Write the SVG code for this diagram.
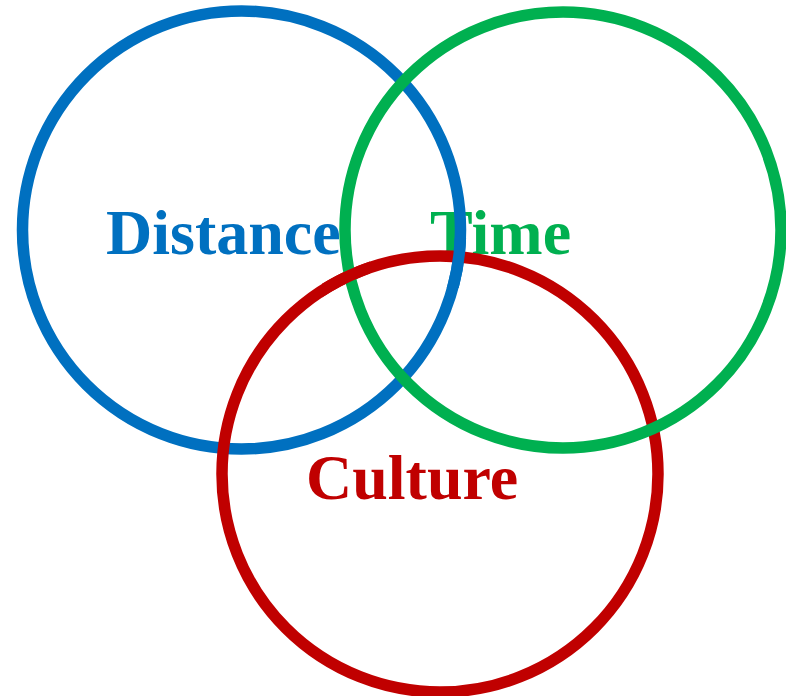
<svg xmlns="http://www.w3.org/2000/svg" width="786" height="696" viewBox="0 0 786 696">
  <style>
    .ring { fill: none; stroke-width: 11.5; }
    .blue { stroke: #0070C0; }
    .green { stroke: #00B050; }
    .red { stroke: #C00000; }
    .lbl { font-family: "Liberation Serif", "Times New Roman", serif; font-weight: bold; font-size: 64px; }
  </style>
  <defs>
    <clipPath id="clipA"><rect x="322" y="252" width="48" height="55"/></clipPath>
    <clipPath id="clipB"><rect x="440" y="238" width="40" height="50"/></clipPath>
  </defs>
  <rect width="786" height="696" fill="#ffffff"/>
  <g id="node-time-label">
    <text class="lbl" x="430" y="254" fill="#00B050">Time</text>
  </g>
  <g id="node-distance">
    <circle class="ring blue" cx="241.5" cy="230" r="219"/>
    <text class="lbl" x="106" y="254" fill="#0070C0">Distance</text>
  </g>
  <g id="node-culture">
    <circle class="ring red" cx="440" cy="474" r="218"/>
    <text class="lbl" x="306" y="499" fill="#C00000">Culture</text>
  </g>
  <g id="node-time">
    <circle class="ring green" cx="563" cy="230" r="218"/>
  </g>
  <g id="connectors">
    <circle class="ring red" cx="440" cy="474" r="218" clip-path="url(#clipA)"/>
    <circle class="ring blue" cx="241.5" cy="230" r="219" clip-path="url(#clipB)"/>
  </g>
</svg>
